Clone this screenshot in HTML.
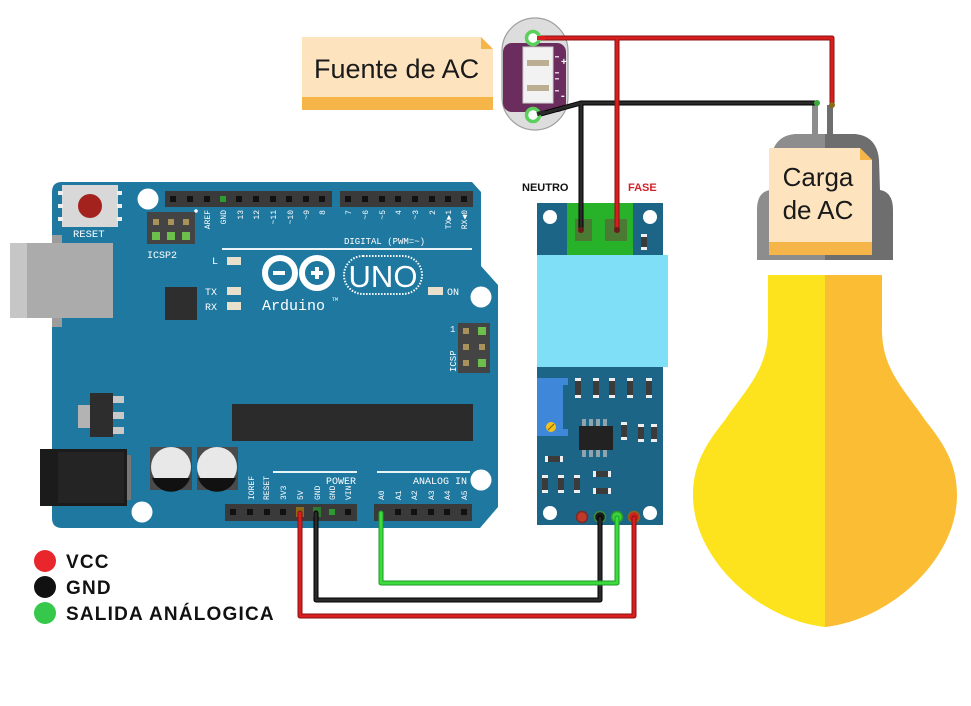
<!DOCTYPE html>
<html><head><meta charset="utf-8"><style>
html,body{margin:0;padding:0;background:#fff;}
svg{display:block}
.m{font-family:"Liberation Mono",monospace;fill:#fff}
.s{font-family:"Liberation Sans",sans-serif}
</style></head><body>
<svg width="971" height="706" viewBox="0 0 971 706" xmlns="http://www.w3.org/2000/svg">
<defs>
<clipPath id="capc"><path d="M795,134 L855,134 Q877,136 879,160 L880,190 Q893,192 893,210 L893,260 L757,260 L757,210 Q757,192 770,190 L771,160 Q773,136 795,134 Z"/></clipPath>
</defs>

<!-- ================= ARDUINO ================= -->
<path d="M62,182 L472,182 L481,192 L481,266 L498,285 L498,507 L480,528 L62,528 Q52,528 52,518 L52,192 Q52,182 62,182 Z" fill="#1f78a0"/>
<rect x="52" y="235" width="10" height="92" fill="#9c9c9c"/>
<rect x="10" y="243" width="103" height="75" fill="#ababab"/>
<rect x="10" y="243" width="17" height="75" fill="#c6c6c6"/>

<!-- reset -->
<rect x="62" y="185" width="56" height="42" fill="#d8d8d8"/>
<rect x="58" y="191" width="5" height="4" fill="#eee"/><rect x="58" y="204" width="5" height="4" fill="#eee"/><rect x="58" y="217" width="5" height="4" fill="#eee"/>
<rect x="117" y="191" width="5" height="4" fill="#eee"/><rect x="117" y="204" width="5" height="4" fill="#eee"/><rect x="117" y="217" width="5" height="4" fill="#eee"/>
<circle cx="90" cy="206" r="12" fill="#a3221d"/>
<text x="73" y="237" class="m" font-size="10.5">RESET</text>

<!-- holes -->
<circle cx="148" cy="199" r="10.5" fill="#fff"/>
<circle cx="481" cy="297" r="10.5" fill="#fff"/>
<circle cx="142" cy="512" r="10.5" fill="#fff"/>
<circle cx="481" cy="480" r="10.5" fill="#fff"/>

<!-- top headers -->
<rect x="165" y="191" width="167" height="16" fill="#3a3a3a"/>
<g fill="#111">
<rect x="170" y="196" width="6" height="6"/><rect x="187" y="196" width="6" height="6"/><rect x="204" y="196" width="6" height="6"/><rect x="236" y="196" width="6" height="6"/><rect x="253" y="196" width="6" height="6"/><rect x="270" y="196" width="6" height="6"/><rect x="286" y="196" width="6" height="6"/><rect x="303" y="196" width="6" height="6"/><rect x="319" y="196" width="6" height="6"/>
</g>
<rect x="220" y="196" width="6" height="6" fill="#2f9a2f"/>
<rect x="340" y="191" width="133" height="16" fill="#3a3a3a"/>
<g fill="#111">
<rect x="345" y="196" width="6" height="6"/><rect x="362" y="196" width="6" height="6"/><rect x="379" y="196" width="6" height="6"/><rect x="395" y="196" width="6" height="6"/><rect x="412" y="196" width="6" height="6"/><rect x="429" y="196" width="6" height="6"/><rect x="445" y="196" width="6" height="6"/><rect x="461" y="196" width="6" height="6"/>
</g>
<circle cx="196" cy="211" r="1.8" fill="#fff"/>
<g class="m" font-size="8" text-anchor="end">
<text transform="translate(210,210) rotate(-90)">AREF</text>
<text transform="translate(226,210) rotate(-90)">GND</text>
<text transform="translate(243,210) rotate(-90)">13</text>
<text transform="translate(259,210) rotate(-90)">12</text>
<text transform="translate(276,210) rotate(-90)">~11</text>
<text transform="translate(293,210) rotate(-90)">~10</text>
<text transform="translate(309,210) rotate(-90)">~9</text>
<text transform="translate(325,210) rotate(-90)">8</text>
<text transform="translate(351,210) rotate(-90)">7</text>
<text transform="translate(368,210) rotate(-90)">~6</text>
<text transform="translate(385,210) rotate(-90)">~5</text>
<text transform="translate(401,210) rotate(-90)">4</text>
<text transform="translate(418,210) rotate(-90)">~3</text>
<text transform="translate(435,210) rotate(-90)">2</text>
<text transform="translate(451,210) rotate(-90)">TX▶1</text>
<text transform="translate(467,210) rotate(-90)">RX◀0</text>
</g>
<text x="344" y="244" class="m" font-size="9">DIGITAL (PWM=~)</text>
<rect x="222" y="248" width="250" height="2" fill="#e8f4f8"/>

<!-- ICSP2 -->
<rect x="147" y="212" width="48" height="32" fill="#444"/>
<g fill="#a8925c"><rect x="153" y="219" width="6" height="6"/><rect x="168" y="219" width="6" height="6"/><rect x="183" y="219" width="6" height="6"/></g>
<g fill="#6cbf4a"><rect x="152" y="232" width="8" height="8"/><rect x="167" y="232" width="8" height="8"/><rect x="182" y="232" width="8" height="8"/></g>
<text x="147" y="258" class="m" font-size="10">ICSP2</text>

<!-- LEDs -->
<text x="212" y="264" class="m" font-size="10">L</text>
<rect x="227" y="257" width="14" height="8" fill="#e9dfcd"/>
<text x="205" y="295" class="m" font-size="10">TX</text>
<rect x="227" y="287" width="14" height="8" fill="#e9dfcd"/>
<text x="205" y="310" class="m" font-size="10">RX</text>
<rect x="227" y="302" width="14" height="8" fill="#e9dfcd"/>
<rect x="428" y="287" width="15" height="8" fill="#e9dfcd"/>
<text x="447" y="295" class="m" font-size="10">ON</text>
<rect x="165" y="287" width="32" height="33" fill="#2e2e2e"/>

<!-- logo -->
<circle cx="280" cy="273" r="15" fill="none" stroke="#fff" stroke-width="6"/>
<circle cx="317" cy="273" r="15" fill="none" stroke="#fff" stroke-width="6"/>
<rect x="273" y="271" width="12" height="4" fill="#fff"/>
<rect x="311" y="271" width="12" height="4" fill="#fff"/>
<rect x="315" y="267" width="4" height="12" fill="#fff"/>
<rect x="344" y="256" width="78" height="38" rx="19" fill="none" stroke="#fff" stroke-width="2" stroke-dasharray="1.5 1.5"/>
<text x="383" y="287" class="s" font-size="31" fill="#fff" text-anchor="middle">UNO</text>
<text x="262" y="310" class="m" font-size="15">Arduino</text>
<text x="332" y="301" class="m" font-size="5">TM</text>

<!-- ICSP right -->
<rect x="458" y="323" width="32" height="50" fill="#444"/>
<g fill="#a8925c"><rect x="463" y="328" width="6" height="6"/><rect x="463" y="344" width="6" height="6"/><rect x="479" y="344" width="6" height="6"/><rect x="463" y="360" width="6" height="6"/></g>
<g fill="#6cbf4a"><rect x="478" y="327" width="8" height="8"/><rect x="478" y="359" width="8" height="8"/></g>
<text x="450" y="332" class="m" font-size="9">1</text>
<text transform="translate(456,372) rotate(-90)" class="m" font-size="9">ICSP</text>

<!-- regulator -->
<rect x="78" y="405" width="13" height="23" fill="#b3b3b3"/>
<rect x="90" y="393" width="23" height="44" fill="#2d2d2d"/>
<g fill="#c9c9c9"><rect x="113" y="396" width="11" height="7"/><rect x="113" y="412" width="11" height="7"/><rect x="113" y="427" width="11" height="7"/></g>

<!-- micro -->
<rect x="232" y="404" width="241" height="37" fill="#2b2b2b"/>

<!-- DC jack -->
<rect x="127" y="455" width="4" height="45" fill="#777"/>
<rect x="40" y="449" width="87" height="57" fill="#1b1b1b"/>
<rect x="58" y="452" width="66" height="51" fill="#242424"/>

<!-- caps -->
<rect x="150" y="447" width="42" height="43" fill="#4a4a4a"/>
<rect x="197" y="447" width="41" height="43" fill="#4a4a4a"/>
<circle cx="171" cy="467" r="20" fill="#e8e8e8"/>
<circle cx="217" cy="467" r="20" fill="#e8e8e8"/>
<path d="M152,478 L190,478 A20,20 0 0 1 152,478 Z" fill="#111"/>
<path d="M198,478 L236,478 A20,20 0 0 1 198,478 Z" fill="#111"/>

<!-- bottom headers -->
<rect x="273" y="471" width="84" height="2" fill="#e8f4f8"/>
<rect x="377" y="471" width="93" height="2" fill="#e8f4f8"/>
<text x="326" y="484" class="m" font-size="10">POWER</text>
<text x="413" y="484" class="m" font-size="10">ANALOG IN</text>
<rect x="225" y="504" width="132" height="17" fill="#3a3a3a"/>
<rect x="374" y="504" width="98" height="17" fill="#3a3a3a"/>
<g fill="#111">
<rect x="230" y="509" width="6" height="6"/><rect x="247" y="509" width="6" height="6"/><rect x="264" y="509" width="6" height="6"/><rect x="280" y="509" width="6" height="6"/><rect x="345" y="509" width="6" height="6"/>
<rect x="395" y="509" width="6" height="6"/><rect x="411" y="509" width="6" height="6"/><rect x="428" y="509" width="6" height="6"/><rect x="444" y="509" width="6" height="6"/><rect x="461" y="509" width="6" height="6"/>
</g>
<rect x="296" y="507" width="8" height="10" fill="#8a6a1a"/>
<rect x="313" y="507" width="8" height="10" fill="#2f7a2f"/>
<rect x="329" y="509" width="6" height="6" fill="#2f9a2f"/>
<g class="m" font-size="8">
<text transform="translate(254,500) rotate(-90)">IOREF</text>
<text transform="translate(269,500) rotate(-90)">RESET</text>
<text transform="translate(286,500) rotate(-90)">3V3</text>
<text transform="translate(303,500) rotate(-90)">5V</text>
<text transform="translate(320,500) rotate(-90)">GND</text>
<text transform="translate(335,500) rotate(-90)">GND</text>
<text transform="translate(351,500) rotate(-90)">VIN</text>
<text transform="translate(384,500) rotate(-90)">A0</text>
<text transform="translate(401,500) rotate(-90)">A1</text>
<text transform="translate(417,500) rotate(-90)">A2</text>
<text transform="translate(434,500) rotate(-90)">A3</text>
<text transform="translate(450,500) rotate(-90)">A4</text>
<text transform="translate(467,500) rotate(-90)">A5</text>
</g>

<!-- ================= SENSOR ================= -->
<rect x="537" y="203" width="126" height="322" fill="#1d6586"/>
<rect x="567" y="203" width="66" height="52" fill="#27b22a"/>
<rect x="575" y="219" width="17" height="22" fill="#4b7a35"/>
<rect x="605" y="219" width="22" height="22" fill="#4b7a35"/>
<circle cx="550" cy="217" r="7" fill="#fff"/>
<circle cx="650" cy="217" r="7" fill="#fff"/>
<rect x="537" y="255" width="131" height="112" fill="#7fdff7"/>
<rect x="641" y="234" width="6" height="16" fill="#3b3b3b"/><rect x="641" y="234" width="6" height="3" fill="#eee"/><rect x="641" y="247" width="6" height="3" fill="#eee"/>
<rect x="537" y="378" width="31" height="58" fill="#3f88d9"/>
<rect x="563" y="385" width="5" height="44" fill="#1d6586"/>
<circle cx="551" cy="427" r="5" fill="#f2c21b"/>
<line x1="548" y1="430" x2="554" y2="424" stroke="#8a6a00" stroke-width="1.2"/>
<g fill="#3b3b3b">
<rect x="575" y="378" width="6" height="20"/><rect x="593" y="378" width="6" height="20"/><rect x="609" y="378" width="6" height="20"/><rect x="627" y="378" width="6" height="20"/><rect x="646" y="378" width="6" height="20"/>
<rect x="621" y="422" width="6" height="18"/><rect x="638" y="424" width="6" height="18"/><rect x="651" y="424" width="6" height="18"/>
<rect x="542" y="475" width="6" height="18"/><rect x="558" y="475" width="6" height="18"/><rect x="574" y="475" width="6" height="18"/>
<rect x="545" y="456" width="18" height="6"/><rect x="593" y="471" width="18" height="6"/><rect x="593" y="488" width="18" height="6"/>
</g>
<g fill="#eee">
<rect x="575" y="378" width="6" height="3"/><rect x="575" y="395" width="6" height="3"/>
<rect x="593" y="378" width="6" height="3"/><rect x="593" y="395" width="6" height="3"/>
<rect x="609" y="378" width="6" height="3"/><rect x="609" y="395" width="6" height="3"/>
<rect x="627" y="378" width="6" height="3"/><rect x="627" y="395" width="6" height="3"/>
<rect x="646" y="378" width="6" height="3"/><rect x="646" y="395" width="6" height="3"/>
<rect x="621" y="422" width="6" height="3"/><rect x="621" y="437" width="6" height="3"/>
<rect x="638" y="424" width="6" height="3"/><rect x="638" y="439" width="6" height="3"/>
<rect x="651" y="424" width="6" height="3"/><rect x="651" y="439" width="6" height="3"/>
<rect x="542" y="475" width="6" height="3"/><rect x="542" y="490" width="6" height="3"/>
<rect x="558" y="475" width="6" height="3"/><rect x="558" y="490" width="6" height="3"/>
<rect x="574" y="475" width="6" height="3"/><rect x="574" y="490" width="6" height="3"/>
<rect x="545" y="456" width="3" height="6"/><rect x="560" y="456" width="3" height="6"/>
<rect x="593" y="471" width="3" height="6"/><rect x="608" y="471" width="3" height="6"/>
<rect x="593" y="488" width="3" height="6"/><rect x="608" y="488" width="3" height="6"/>
</g>
<g fill="#8fa4ad"><rect x="582" y="419" width="4" height="7"/><rect x="589" y="419" width="4" height="7"/><rect x="596" y="419" width="4" height="7"/><rect x="603" y="419" width="4" height="7"/>
<rect x="582" y="450" width="4" height="7"/><rect x="589" y="450" width="4" height="7"/><rect x="596" y="450" width="4" height="7"/><rect x="603" y="450" width="4" height="7"/></g>
<rect x="579" y="426" width="34" height="24" fill="#222"/>
<circle cx="550" cy="513" r="7" fill="#fff"/>
<circle cx="650" cy="513" r="7" fill="#fff"/>
<circle cx="582" cy="517" r="5.5" fill="#c0392b" stroke="#7a2a20" stroke-width="1.5"/>
<circle cx="600" cy="517" r="5.5" fill="#1a1a1a" stroke="#3a8a3a" stroke-width="1.5"/>
<circle cx="617" cy="517" r="5.5" fill="#3ad43a" stroke="#2a9a2a" stroke-width="1.5"/>
<circle cx="634" cy="517" r="5.5" fill="#d02020" stroke="#8a6a1a" stroke-width="1.5"/>

<text x="522" y="191" class="s" font-size="11" font-weight="bold" fill="#111">NEUTRO</text>
<text x="628" y="191" class="s" font-size="11" font-weight="bold" fill="#d1242a">FASE</text>

<!-- ================= BULB ================= -->
<rect x="812" y="105" width="6" height="32" fill="#8d8d8d"/>
<rect x="827" y="105" width="6" height="32" fill="#6e6e6e"/>
<g clip-path="url(#capc)">
<rect x="750" y="130" width="75" height="135" fill="#8d8d8d"/>
<rect x="825" y="130" width="75" height="135" fill="#6e6e6e"/>
</g>
<path d="M825,275 L768,275 L768,330 C768,370 745,390 725,420 C705,445 693,465 693,495 C693,560 760,620 825,627 Z" fill="#fde21e"/>
<path d="M825,275 L882,275 L882,330 C882,370 905,390 925,420 C945,445 957,465 957,495 C957,560 890,620 825,627 Z" fill="#fbbd34"/>

<polygon points="769,148 860,148 872,160 872,255 769,255" fill="#fde4bf"/>
<polygon points="860,148 860,160 872,160" fill="#f6b548"/>
<rect x="769" y="242" width="103" height="13" fill="#f6b548"/>
<text x="818" y="186" class="s" font-size="26" fill="#1a1a1a" text-anchor="middle">Carga</text>
<text x="818" y="219" class="s" font-size="26" fill="#1a1a1a" text-anchor="middle">de AC</text>

<!-- ================= AC SOURCE ================= -->
<polygon points="302,37 481,37 493,49 493,110 302,110" fill="#fde4bf"/>
<polygon points="481,37 481,49 493,49" fill="#f6b548"/>
<rect x="302" y="97" width="191" height="13" fill="#f6b548"/>
<text x="314" y="78" class="s" font-size="27" fill="#1a1a1a">Fuente de AC</text>

<rect x="502" y="18" width="66" height="112" rx="33" fill="#dddddd" stroke="#a0a0a0" stroke-width="1.2"/>
<rect x="503" y="43" width="63" height="69" rx="9" fill="#6b2c5e"/>
<rect x="523" y="47" width="30" height="56" fill="#f2f2f2" stroke="#cfcfcf"/>
<rect x="527" y="60" width="22" height="6" fill="#bcae92"/>
<rect x="527" y="85" width="22" height="6" fill="#bcae92"/>
<g fill="#e0c8da"><rect x="555" y="56" width="4" height="1.5"/><rect x="555" y="72" width="4" height="1.5"/><rect x="555" y="78" width="4" height="1.5"/><rect x="555" y="90" width="4" height="1.5"/></g>
<text x="561" y="65" class="s" font-size="10" font-weight="bold" fill="#fff">+</text>
<text x="561" y="99" class="s" font-size="11" font-weight="bold" fill="#fff">-</text>

<!-- ================= WIRES ================= -->
<g fill="none" stroke-linejoin="round" stroke-linecap="round">
<polyline points="537,115 581,103 817,103" stroke="#000" stroke-width="5"/>
<polyline points="581,103 581,230" stroke="#000" stroke-width="5"/>
<polyline points="537,115 581,103 817,103" stroke="#2a2a2a" stroke-width="3"/>
<polyline points="581,103 581,230" stroke="#2a2a2a" stroke-width="3"/>
<polyline points="537,38 832,38 832,105" stroke="#8a1010" stroke-width="5"/>
<polyline points="617,38 617,230" stroke="#8a1010" stroke-width="5"/>
<polyline points="537,38 832,38 832,105" stroke="#d81e1e" stroke-width="3"/>
<polyline points="617,38 617,230" stroke="#d81e1e" stroke-width="3"/>
<polyline points="300,513 300,616 634,616 634,518" stroke="#8a1010" stroke-width="5"/>
<polyline points="300,513 300,616 634,616 634,518" stroke="#d81e1e" stroke-width="3"/>
<polyline points="316,513 316,600 600,600 600,518" stroke="#000" stroke-width="5"/>
<polyline points="316,513 316,600 600,600 600,518" stroke="#2a2a2a" stroke-width="3"/>
<polyline points="381,513 381,583 617,583 617,518" stroke="#1f9a2a" stroke-width="5"/>
<polyline points="381,513 381,583 617,583 617,518" stroke="#3ddc3d" stroke-width="3"/>
</g>
<circle cx="533" cy="38" r="6.5" fill="#fff" stroke="#5ccf5c" stroke-width="3.5"/>
<circle cx="533" cy="115" r="6.5" fill="#fff" stroke="#5ccf5c" stroke-width="3.5"/>
<line x1="537" y1="38" x2="545" y2="38" stroke="#d81e1e" stroke-width="4"/>
<line x1="537" y1="114" x2="545" y2="112" stroke="#2a2a2a" stroke-width="4"/>
<circle cx="817" cy="103" r="3" fill="#3aa83a"/>
<circle cx="832" cy="105" r="3" fill="#8a6a1a"/>
<circle cx="581" cy="230" r="3" fill="#6a1a1a"/>
<circle cx="617" cy="230" r="3" fill="#6a1a1a"/>

<!-- ================= LEGEND ================= -->
<circle cx="45" cy="561" r="11" fill="#e8262b"/>
<circle cx="45" cy="587" r="11" fill="#111"/>
<circle cx="45" cy="613" r="11" fill="#35c84a"/>
<g class="s" font-size="19" font-weight="bold" fill="#111" letter-spacing="1.2">
<text x="66" y="568">VCC</text>
<text x="66" y="594">GND</text>
<text x="66" y="620">SALIDA ANÁLOGICA</text>
</g>
</svg>
</body></html>
